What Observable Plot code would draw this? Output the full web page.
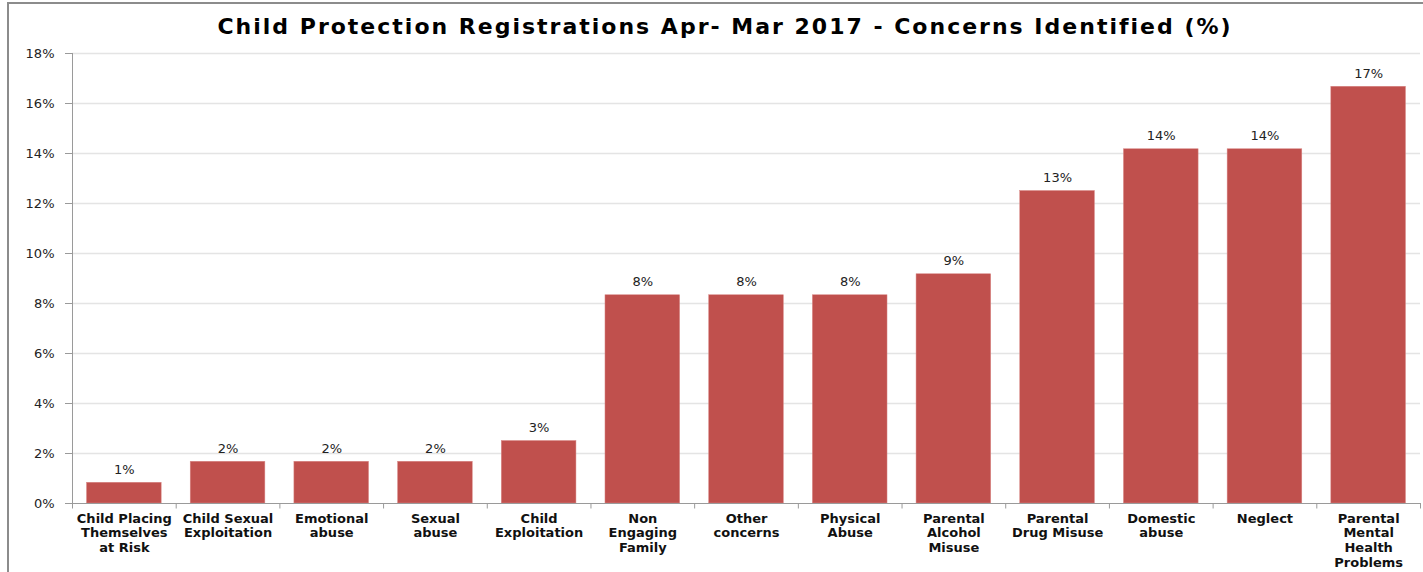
<!DOCTYPE html>
<html>
<head>
<meta charset="utf-8">
<script src="https://cdn.jsdelivr.net/npm/d3@7"></script>
<script src="https://cdn.jsdelivr.net/npm/@observablehq/plot@0.6"></script>
<style>
  html, body { margin: 0; padding: 0; background: #fff; }
  body { width: 1423px; height: 572px; position: relative; overflow: hidden; font-family: "DejaVu Sans", Verdana, sans-serif; }
  #frame { position: absolute; left: 7px; top: 2px; width: 1430px; height: 600px; border-left: 2px solid #8c8c8c; border-top: 2px solid #8c8c8c; }
  #title { position: absolute; left: 0; top: 14px; width: 1450px; text-align: center; font-weight: bold; font-size: 22px; letter-spacing: 2px; color: #000; }
  #chart { position: absolute; left: 0; top: 0; }
</style>
</head>
<body>
<div id="frame"></div>
<div id="title">Child Protection Registrations Apr- Mar 2017 - Concerns Identified (%)</div>
<div id="chart"></div>
<script>
const categories = [
  "Child Placing Themselves at Risk",
  "Child Sexual Exploitation",
  "Emotional abuse",
  "Sexual abuse",
  "Child Exploitation",
  "Non Engaging Family",
  "Other concerns",
  "Physical Abuse",
  "Parental Alcohol Misuse",
  "Parental Drug Misuse",
  "Domestic abuse",
  "Neglect",
  "Parental Mental Health Problems"
];
const tickLabels = [
  "Child Placing\nThemselves\nat Risk",
  "Child Sexual\nExploitation",
  "Emotional\nabuse",
  "Sexual\nabuse",
  "Child\nExploitation",
  "Non\nEngaging\nFamily",
  "Other\nconcerns",
  "Physical\nAbuse",
  "Parental\nAlcohol\nMisuse",
  "Parental\nDrug Misuse",
  "Domestic\nabuse",
  "Neglect",
  "Parental\nMental\nHealth\nProblems"
];
const values = [0.83, 1.67, 1.67, 1.67, 2.5, 8.33, 8.33, 8.33, 9.17, 12.5, 14.17, 14.17, 16.67];
const yTicks = [0, 2, 4, 6, 8, 10, 12, 14, 16, 18];

const data = categories.map((c, i) => ({category: c, value: values[i]}));
const labelOf = new Map(categories.map((c, i) => [c, tickLabels[i]]));

const W = 1423, H = 572;
const mL = 72, mR = 3, mT = 53, mB = 69;
const step = (W - mL - mR) / categories.length;

const chart = Plot.plot({
  width: W,
  height: H,
  marginLeft: mL,
  marginRight: mR,
  marginTop: mT,
  marginBottom: mB,
  style: {fontFamily: "'DejaVu Sans', Verdana, sans-serif", fontSize: "13px", color: "#222", background: "transparent"},
  x: {domain: categories, paddingInner: 0.28, paddingOuter: 0.14, align: 0.5, round: false, label: null},
  y: {domain: [0, 18], label: null},
  marks: [
    Plot.ruleY(yTicks.filter(d => d > 0), {stroke: "#e4e4e4", strokeWidth: 1.5}),
    Plot.barY(data, {x: "category", y: "value", fill: "#C0504D", stroke: "#d98a88", strokeWidth: 0.5}),
    Plot.text(data, {x: "category", y: "value", text: d => Math.round(d.value) + "%", dy: -13, fill: "#222", fontSize: 13, letterSpacing: 1}),
    Plot.axisY({ticks: yTicks, tickFormat: d => d + "%", tickSize: 7, tickPadding: 11, stroke: "#9a9a9a", fill: "#222", fontSize: 13, letterSpacing: 0.8}),
    Plot.frame({anchor: "left", stroke: "#9a9a9a"}),
    Plot.ruleY([0], {stroke: "#9a9a9a"}),
    Plot.axisX({tickSize: 0, tickPadding: 9, tickFormat: d => labelOf.get(d), fontWeight: "bold", fontSize: 13, letterSpacing: 1, lineHeight: 1.12, fill: "#111"}),
    Plot.ruleX(categories, {x: d => d, y1: 0, y2: -0.22, stroke: "#9a9a9a", dx: -step / 2}),
    Plot.ruleX(categories.slice(-1), {x: d => d, y1: 0, y2: -0.22, stroke: "#9a9a9a", dx: step / 2})
  ]
});
document.getElementById("chart").appendChild(chart);
</script>
</body>
</html>
